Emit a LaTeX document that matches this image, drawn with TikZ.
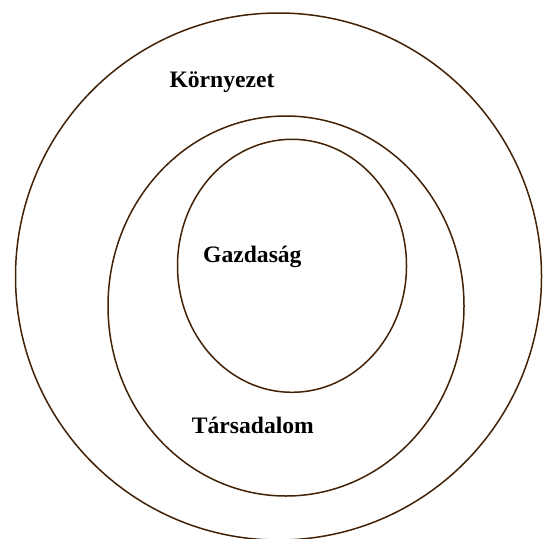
\documentclass[tikz,border=0pt]{standalone}
\usepackage{fontspec}
\setmainfont{Liberation Serif}
\usepackage{tikz}
\definecolor{ringbrown}{RGB}{66,34,6}

\begin{document}
\begin{tikzpicture}[x=1pt, y=-1pt, ring/.style={draw=ringbrown, line width=1.5pt},
  label/.style={anchor=base west, inner sep=0pt, font=\fontsize{23.6}{28}\selectfont\bfseries}]
  \useasboundingbox (0,0) rectangle (545,538);

  \draw[ring] (278.5,276.5) ellipse (263 and 263.5);
  \draw[ring] (286,306) ellipse (178 and 190);
  \draw[ring] (292,265.8) ellipse (114.5 and 126.5);

  \node[label] (kornyezet) at (169.3,87.8) {Környezet};
  \node[label] (gazdasag) at (203,262.5) {Gazdaság};
  \node[label] (tarsadalom) at (191.7,433.8) {Társadalom};
\end{tikzpicture}
\end{document}
